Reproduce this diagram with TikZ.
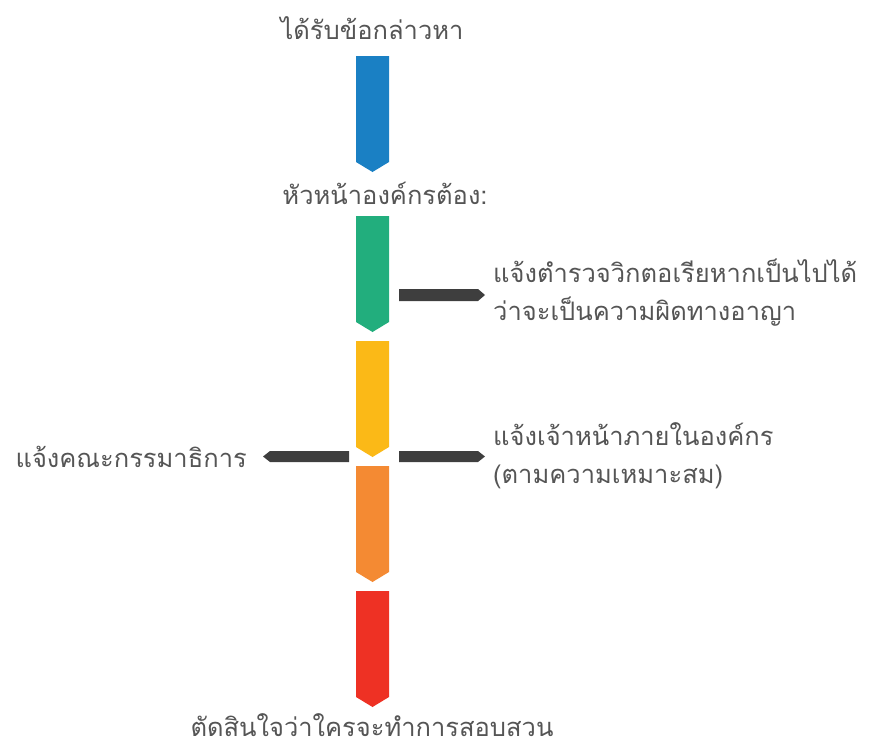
\documentclass[tikz,border=0pt]{standalone}
\usepackage{fontspec}
\newfontfamily\thaifont[Script=Thai]{Loma}
\definecolor{stageblue}{RGB}{26,128,196}
\definecolor{stagegreen}{RGB}{34,174,125}
\definecolor{stageyellow}{RGB}{251,185,23}
\definecolor{stageorange}{RGB}{244,138,51}
\definecolor{stagered}{RGB}{238,49,36}
\definecolor{pointergray}{RGB}{62,62,62}
\definecolor{labelgray}{RGB}{85,85,85}
% one coloured stage: top edge y, colour
\newcommand\stagebar[2]{\fill[#2] (356,#1)--(389,#1)--(389,#1+106)--(372.5,#1+116)--(356,#1+106)--cycle;}
\tikzset{label/.style={text=labelgray, font=\thaifont\fontsize{25.5}{38}\selectfont, inner sep=0pt}}
\begin{document}
\begin{tikzpicture}[x=1pt, y=-1pt, line join=round]
				\useasboundingbox (0,0) rectangle (870,747);
				\stagebar{56}{stageblue}
				\stagebar{216}{stagegreen}
				\stagebar{341}{stageyellow}
				\stagebar{466}{stageorange}
				\stagebar{591}{stagered}
				\fill[pointergray] (399,289)--(478,289)--(485,295)--(478,301)--(399,301)--cycle;
				\fill[pointergray] (399,451)--(478,451)--(485,456.5)--(478,462)--(399,462)--cycle;
				\fill[pointergray] (349,451)--(270,451)--(263,456.5)--(270,462)--(349,462)--cycle;
				\node[label] (received) at (372,28) {ได้รับข้อกล่าวหา};
				\node[label] (head) at (385,193) {หัวหน้าองค์กรต้อง:};
				\node[label, anchor=west, align=left] (police) at (493,293) {แจ้งตำรวจวิกตอเรียหากเป็นไปได้\\ว่าจะเป็นความผิดทางอาญา};
				\node[label, anchor=east] (committee) at (247,457) {แจ้งคณะกรรมาธิการ};
				\node[label, anchor=west, align=left] (internal) at (493,456) {แจ้งเจ้าหน้าภายในองค์กร\\(ตามความเหมาะสม)};
				\node[label] (decide) at (372,725) {ตัดสินใจว่าใครจะทำการสอบสวน};
			\end{tikzpicture}
\end{document}
